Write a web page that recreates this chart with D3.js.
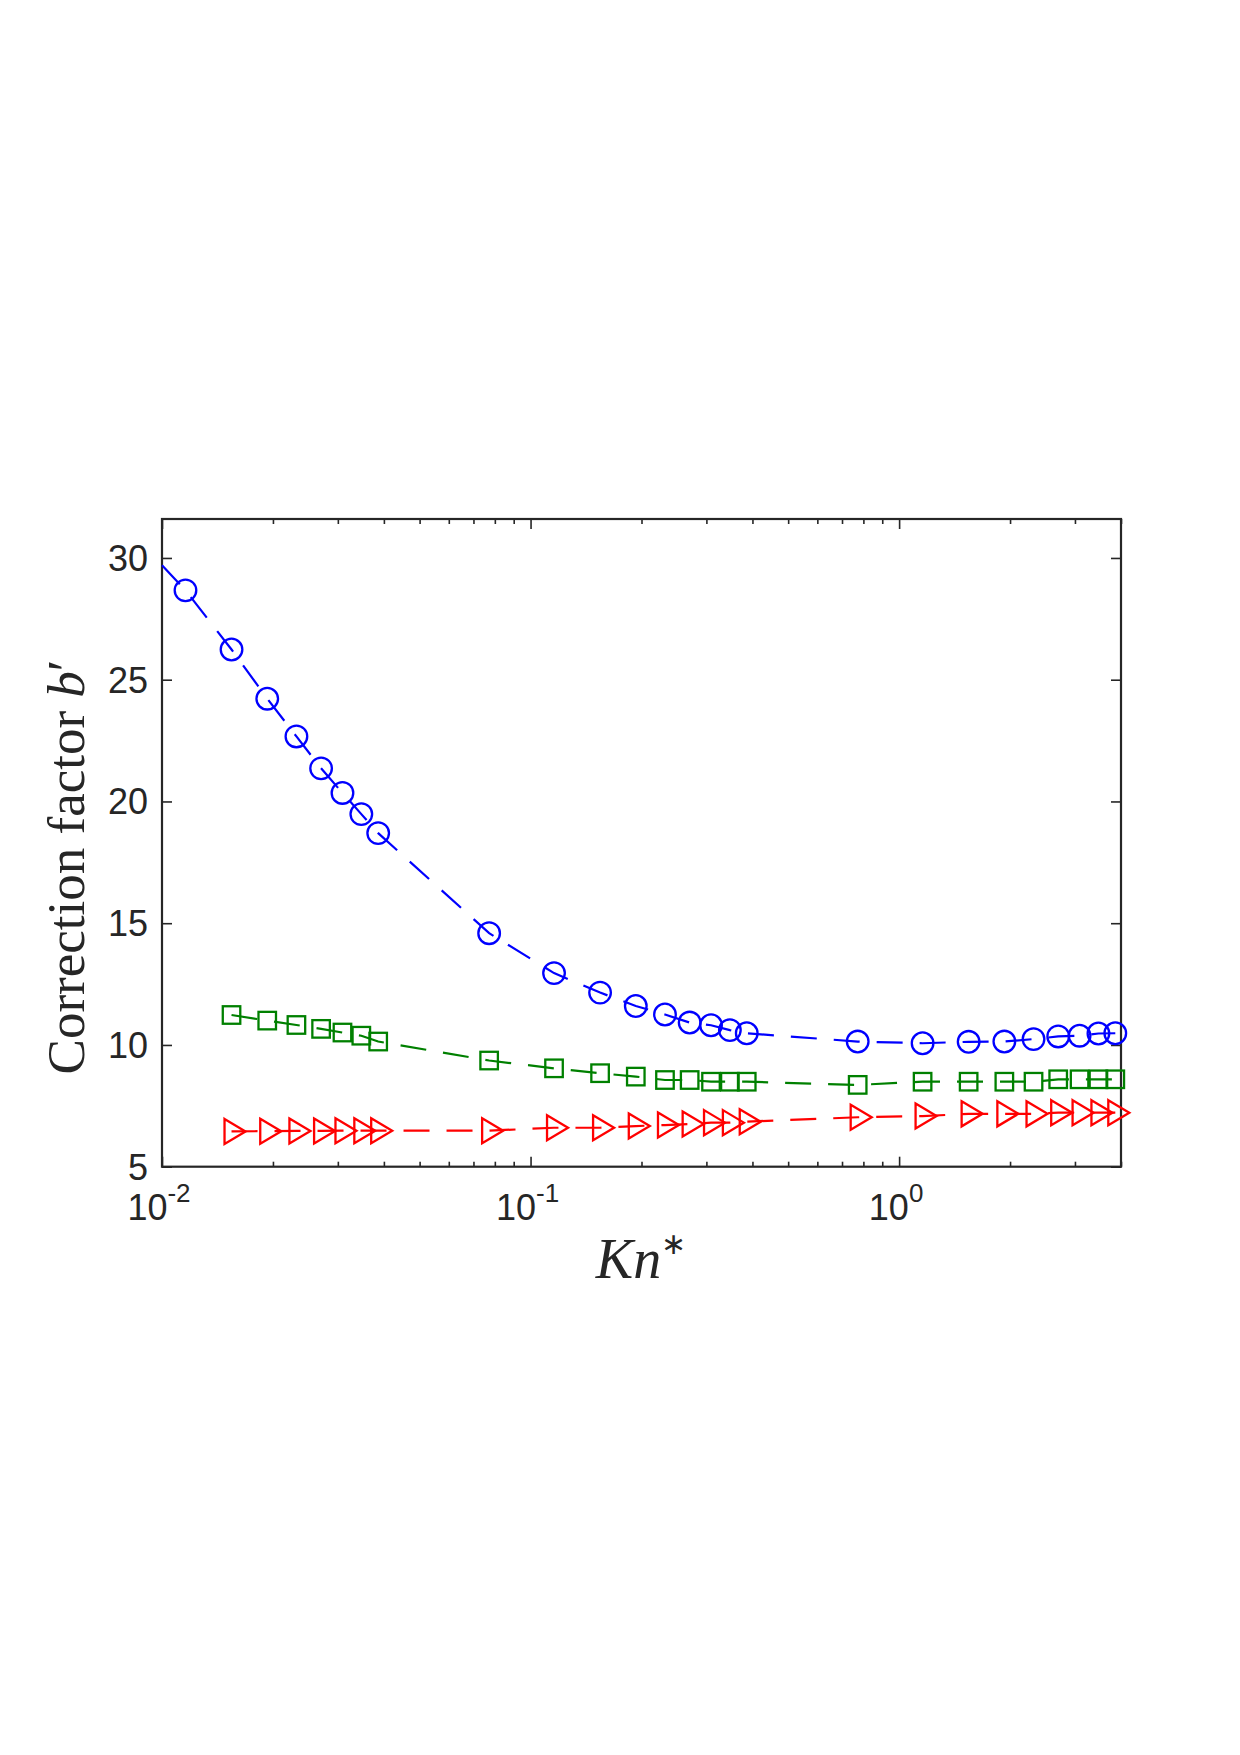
<!DOCTYPE html>
<html>
<head>
<meta charset="utf-8">
<script src="https://cdn.jsdelivr.net/npm/d3@7"></script>
<style>
  body { margin: 0; background: #fff; }
  .tick line { stroke: #262626; stroke-width: 1.6; }
</style>
</head>
<body>
<svg id="chart" width="1240" height="1755"></svg>
<script>
// Kn* values and correction factor b'
const knBlue = [0.01158, 0.01544, 0.0193, 0.02316, 0.02702, 0.03088, 0.03474, 0.0386,
  0.0772, 0.1158, 0.1544, 0.193, 0.2316, 0.2702, 0.3088, 0.3474, 0.386,
  0.772, 1.158, 1.544, 1.93, 2.316, 2.702, 3.088, 3.474, 3.86];
const bBlue = [28.67, 26.24, 24.22, 22.67, 21.36, 20.35, 19.48, 18.70,
  14.59, 12.95, 12.15, 11.60, 11.25, 10.92, 10.81, 10.61, 10.48,
  10.14, 10.07, 10.13, 10.14, 10.24, 10.35, 10.38, 10.47, 10.48];
// the blue dashed curve starts at the left edge, before the first marker
const blueLineStart = [0.01, 29.7];

const knOther = [0.01544, 0.0193, 0.02316, 0.02702, 0.03088, 0.03474, 0.0386,
  0.0772, 0.1158, 0.1544, 0.193, 0.2316, 0.2702, 0.3088, 0.3474, 0.386,
  0.772, 1.158, 1.544, 1.93, 2.316, 2.702, 3.088, 3.474, 3.86];
const bGreen = [11.23, 11.00, 10.82, 10.66, 10.51, 10.38, 10.14,
  9.36, 9.04, 8.84, 8.70, 8.56, 8.56, 8.49, 8.49, 8.49,
  8.36, 8.49, 8.49, 8.49, 8.49, 8.59, 8.59, 8.59, 8.59];
const bRed = [6.45, 6.46, 6.47, 6.47, 6.48, 6.48, 6.48,
  6.48, 6.60, 6.60, 6.67, 6.71, 6.75, 6.81, 6.81, 6.85,
  7.03, 7.08, 7.17, 7.17, 7.17, 7.22, 7.22, 7.22, 7.22];

const xDomain = [0.01, 4];
const yDomain = [5, 31.6];
const yTicks = [5, 10, 15, 20, 25, 30];
const xMajor = [0.01, 0.1, 1];
const xTickLabels = ["-2", "-1", "0"];

let pLeft = 162, pRight = 1121, pTop = 519, pBottom = 1166.7;

let svg = d3.select("#chart");

let x = d3.scaleLog().domain(xDomain).range([pLeft, pRight]);
let y = d3.scaleLinear().domain(yDomain).range([pBottom, pTop]);

let xMinor = x.ticks().filter(t => xMajor.indexOf(t) == -1);

// ticks, all pointing inward
function addAxis(axis, tx, ty) {
  let g = svg.append("g").attr("transform", `translate(${tx},${ty})`).call(axis);
  g.select(".domain").remove();
  return g;
}
addAxis(d3.axisBottom(x).tickValues(xMinor).tickSize(-5).tickFormat(""), 0, pBottom);
addAxis(d3.axisBottom(x).tickValues(xMajor).tickSize(-10).tickFormat(""), 0, pBottom);
addAxis(d3.axisTop(x).tickValues(xMinor).tickSize(-5).tickFormat(""), 0, pTop);
addAxis(d3.axisTop(x).tickValues(xMajor).tickSize(-10).tickFormat(""), 0, pTop);
addAxis(d3.axisLeft(y).tickValues(yTicks).tickSize(-10).tickFormat(""), pLeft, 0);
addAxis(d3.axisRight(y).tickValues(yTicks).tickSize(-10).tickFormat(""), pRight, 0);

svg.append("rect")
  .attr("x", pLeft).attr("y", pTop)
  .attr("width", pRight - pLeft).attr("height", pBottom - pTop)
  .attr("fill", "none")
  .attr("stroke", "#262626")
  .attr("stroke-width", 2.2);

// tick labels
svg.append("g").selectAll("text")
  .data(yTicks)
  .enter()
  .append("text")
  .attr("x", pLeft - 14)
  .attr("y", d => y(d))
  .attr("dy", "0.36em")
  .attr("text-anchor", "end")
  .attr("font-family", "'Liberation Sans', Arial, sans-serif")
  .attr("font-size", 36)
  .attr("fill", "#262626")
  .text(d => d);

let xl = svg.append("g").selectAll("text")
  .data(xMajor)
  .enter()
  .append("text")
  .attr("x", d => x(d) - 3)
  .attr("y", 1220)
  .attr("text-anchor", "middle")
  .attr("font-family", "'Liberation Sans', Arial, sans-serif")
  .attr("font-size", 36)
  .attr("fill", "#262626");
xl.append("tspan").text("10");
xl.append("tspan")
  .attr("dy", -18)
  .attr("font-size", 26)
  .text((d, i) => xTickLabels[i]);

// axis titles
let xt = svg.append("text")
  .attr("x", 641)
  .attr("y", 1278)
  .attr("text-anchor", "middle")
  .attr("font-family", "'Liberation Serif', 'Times New Roman', serif")
  .attr("font-size", 56)
  .attr("fill", "#262626");
xt.append("tspan").attr("font-style", "italic").text("Kn");
xt.append("tspan").attr("dy", -24).attr("font-size", 30).text("\u2217");

let yt = svg.append("text")
  .attr("transform", "translate(84,867) rotate(-90)")
  .attr("text-anchor", "middle")
  .attr("font-family", "'Liberation Serif', 'Times New Roman', serif")
  .attr("font-size", 53)
  .attr("fill", "#262626");
yt.append("tspan").text("Correction factor ");
yt.append("tspan").attr("font-style", "italic").text("b");
yt.append("tspan").text("\u2032");

// series
let line = d3.line().x(d => x(d[0])).y(d => y(d[1]));

let blueData = [blueLineStart].concat(knBlue.map((k, i) => [k, bBlue[i]]));
let greenData = knOther.map((k, i) => [k, bGreen[i]]);
let redData = knOther.map((k, i) => [k, bRed[i]]);

function drawLine(data, color) {
  svg.append("path")
    .datum(data)
    .attr("d", line)
    .attr("fill", "none")
    .attr("stroke", color)
    .attr("stroke-width", 2.2)
    .attr("stroke-dasharray", "26,17");
}

drawLine(blueData, "#0000ff");
drawLine(greenData, "#008000");
drawLine(redData, "#ff0000");

// markers
svg.append("g").selectAll("circle")
  .data(knBlue.map((k, i) => [k, bBlue[i]]))
  .enter()
  .append("circle")
  .attr("cx", d => x(d[0]))
  .attr("cy", d => y(d[1]))
  .attr("r", 10.8)
  .attr("fill", "none")
  .attr("stroke", "#0000ff")
  .attr("stroke-width", 2.3);

let sq = 17.5;
svg.append("g").selectAll("rect")
  .data(greenData)
  .enter()
  .append("rect")
  .attr("x", d => x(d[0]) - sq / 2)
  .attr("y", d => y(d[1]) - sq / 2)
  .attr("width", sq)
  .attr("height", sq)
  .attr("fill", "none")
  .attr("stroke", "#008000")
  .attr("stroke-width", 2.3);

// right-pointing triangle centred on its centroid
let tw = 21, th = 25;
svg.append("g").selectAll("path")
  .data(redData)
  .enter()
  .append("path")
  .attr("d", d => {
    let cx = x(d[0]), cy = y(d[1]);
    return `M${cx - tw / 3},${cy - th / 2}L${cx + 2 * tw / 3},${cy}L${cx - tw / 3},${cy + th / 2}Z`;
  })
  .attr("fill", "none")
  .attr("stroke", "#ff0000")
  .attr("stroke-width", 2.3)
  .attr("stroke-linejoin", "miter");
</script>
</body>
</html>
